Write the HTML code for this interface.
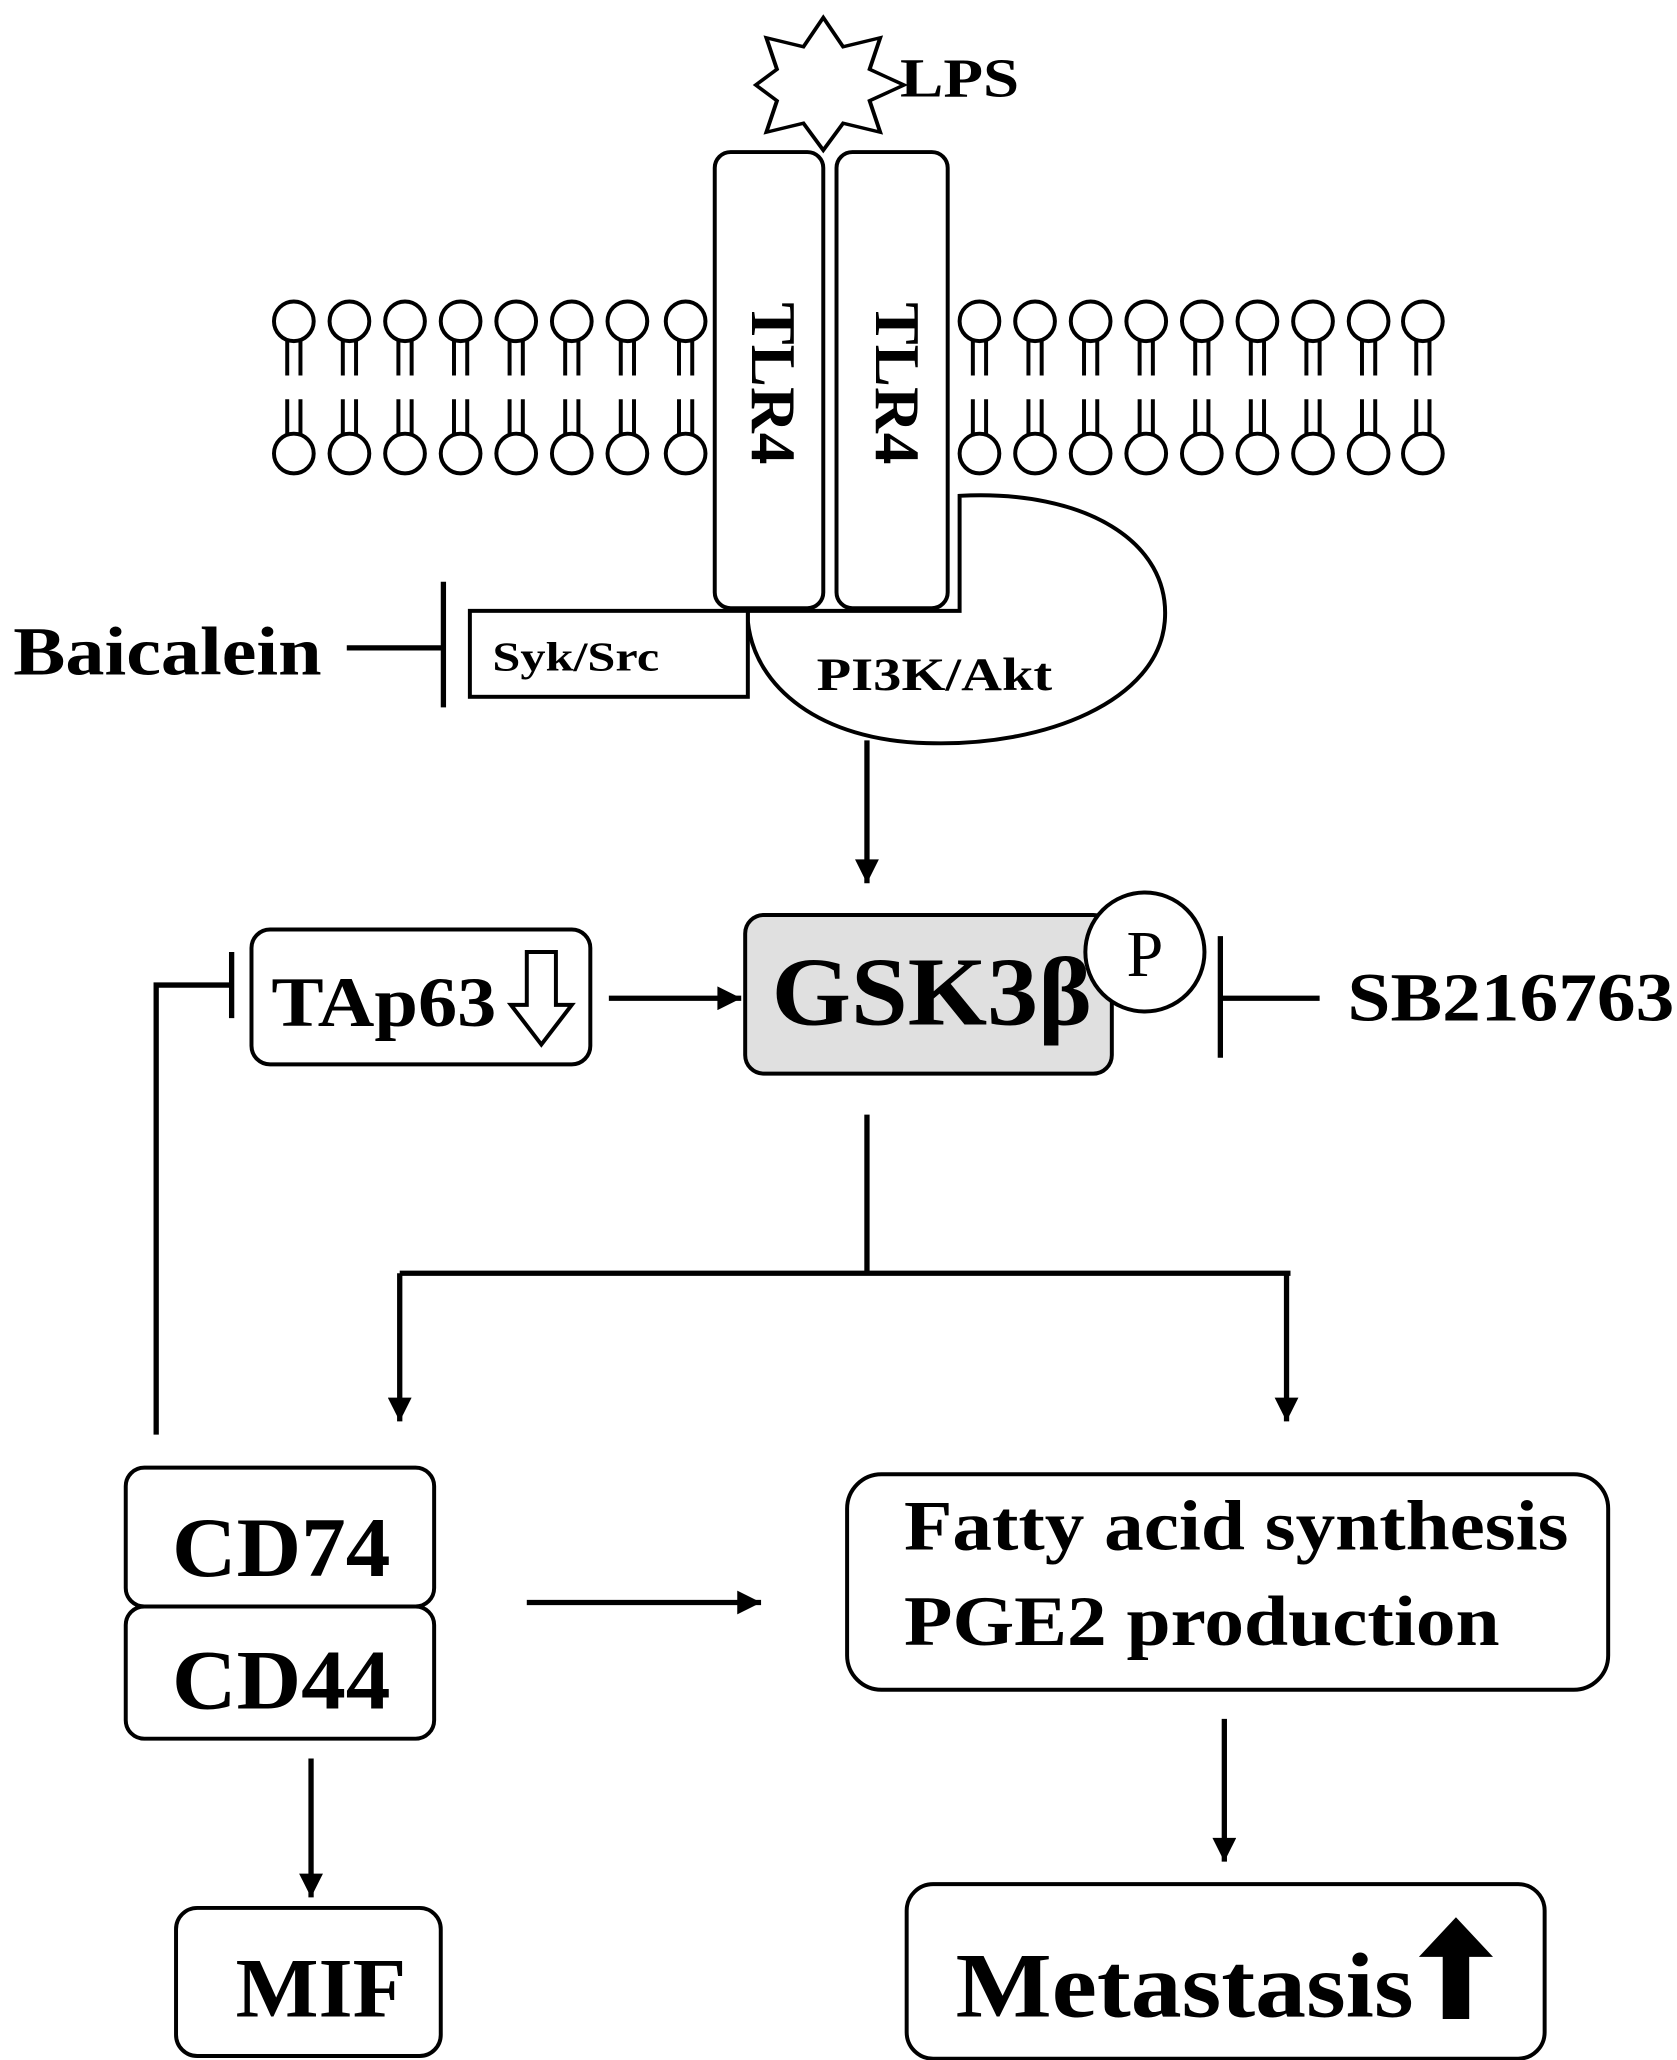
<!DOCTYPE html>
<html><head><style>html,body{margin:0;padding:0;background:#fff}svg{display:block}</style></head>
<body>
<svg width="1677" height="2060" viewBox="0 0 1267 1558" preserveAspectRatio="none" xmlns="http://www.w3.org/2000/svg" font-family="'Liberation Serif',serif">
<defs>
<marker id="ah2" viewBox="0 0 10 10" markerWidth="20" markerHeight="18" refX="10" refY="5" orient="auto" markerUnits="userSpaceOnUse">
<path d="M0,0 L10,5 L0,10 Z" fill="#000"/></marker>
</defs>
<g stroke="#000" stroke-width="3" fill="none">
<polygon fill="#fff" points="622,10 637,36 665,28 657,56 683,70 657,84 665,112 637,104 622,128 607,104 579,112 587,84 571,70 587,56 579,28 607,36" transform="translate(0,-2) scale(1,0.85) translate(0,8)"/>
</g>
<text x="680" y="73" font-size="42" font-weight="bold" textLength="90" lengthAdjust="spacingAndGlyphs">LPS</text>
<g stroke="#000" stroke-width="3" fill="#fff">
<g>
<circle cx="222" cy="243" r="15"/><circle cx="264" cy="243" r="15"/><circle cx="306" cy="243" r="15"/><circle cx="348" cy="243" r="15"/><circle cx="390" cy="243" r="15"/><circle cx="432" cy="243" r="15"/><circle cx="474" cy="243" r="15"/><circle cx="518" cy="243" r="15"/>
<circle cx="222" cy="343" r="15"/><circle cx="264" cy="343" r="15"/><circle cx="306" cy="343" r="15"/><circle cx="348" cy="343" r="15"/><circle cx="390" cy="343" r="15"/><circle cx="432" cy="343" r="15"/><circle cx="474" cy="343" r="15"/><circle cx="518" cy="343" r="15"/>
<circle cx="740" cy="243" r="15"/><circle cx="782" cy="243" r="15"/><circle cx="824" cy="243" r="15"/><circle cx="866" cy="243" r="15"/><circle cx="908" cy="243" r="15"/><circle cx="950" cy="243" r="15"/><circle cx="992" cy="243" r="15"/><circle cx="1034" cy="243" r="15"/><circle cx="1075" cy="243" r="15"/>
<circle cx="740" cy="343" r="15"/><circle cx="782" cy="343" r="15"/><circle cx="824" cy="343" r="15"/><circle cx="866" cy="343" r="15"/><circle cx="908" cy="343" r="15"/><circle cx="950" cy="343" r="15"/><circle cx="992" cy="343" r="15"/><circle cx="1034" cy="343" r="15"/><circle cx="1075" cy="343" r="15"/>
</g>
<g fill="none" stroke-width="3">
<path d="M217,258V284M227,258V284M259,258V284M269,258V284M301,258V284M311,258V284M343,258V284M353,258V284M385,258V284M395,258V284M427,258V284M437,258V284M469,258V284M479,258V284M513,258V284M523,258V284"/>
<path d="M217,302V328M227,302V328M259,302V328M269,302V328M301,302V328M311,302V328M343,302V328M353,302V328M385,302V328M395,302V328M427,302V328M437,302V328M469,302V328M479,302V328M513,302V328M523,302V328"/>
<path d="M735,258V284M745,258V284M777,258V284M787,258V284M819,258V284M829,258V284M861,258V284M871,258V284M903,258V284M913,258V284M945,258V284M955,258V284M987,258V284M997,258V284M1029,258V284M1039,258V284M1070,258V284M1080,258V284"/>
<path d="M735,302V328M745,302V328M777,302V328M787,302V328M819,302V328M829,302V328M861,302V328M871,302V328M903,302V328M913,302V328M945,302V328M955,302V328M987,302V328M997,302V328M1029,302V328M1039,302V328M1070,302V328M1080,302V328"/>
</g>
<path d="M565,462 H725 V375 C820,370 885,410 880,470 C875,530 790,565 700,562 C620,560 570,520 565,470 Z"/>
<rect x="540" y="115" width="82" height="345" rx="12"/>
<rect x="632" y="115" width="84" height="345" rx="12"/>
<rect x="355" y="462" width="210" height="65"/>
<rect x="563" y="692" width="277" height="120" rx="14" fill="#e0e0e0"/>
<circle cx="865" cy="720" r="45"/>
<rect x="190" y="703" width="256" height="102" rx="14"/>
<rect x="95" y="1110" width="233" height="105" rx="14"/>
<rect x="95" y="1215" width="233" height="100" rx="14"/>
<rect x="640" y="1115" width="575" height="163" rx="26"/>
<rect x="685" y="1425" width="482" height="132" rx="20"/>
<rect x="133" y="1443" width="200" height="112" rx="16"/>
</g>
<text transform="translate(568,290) rotate(90)" text-anchor="middle" font-size="48" font-weight="bold">TLR4</text>
<text transform="translate(662,290) rotate(90)" text-anchor="middle" font-size="48" font-weight="bold">TLR4</text>
<text x="372" y="507" font-size="31" font-weight="bold" textLength="126" lengthAdjust="spacingAndGlyphs">Syk/Src</text>
<text x="617" y="522" font-size="35" font-weight="bold" textLength="178" lengthAdjust="spacingAndGlyphs">PI3K/Akt</text>
<text x="10" y="510" font-size="52" font-weight="bold" textLength="233" lengthAdjust="spacingAndGlyphs">Baicalein</text>
<g stroke="#000" stroke-width="4" fill="none">
<path d="M262,490H335M335,440V535"/>
<path d="M655,560V668" marker-end="url(#ah2)"/>
<path d="M922,708V800M922,755H997"/>
<path d="M460,755H560" marker-end="url(#ah2)"/>
<path d="M118,1085V745H175M175,720V770"/>
<path d="M655,843V963M302,963H975"/>
<path d="M302,963V1075" marker-end="url(#ah2)"/>
<path d="M972,963V1075" marker-end="url(#ah2)"/>
<path d="M398,1212H575" marker-end="url(#ah2)"/>
<path d="M925,1300V1408" marker-end="url(#ah2)"/>
<path d="M235,1330V1435" marker-end="url(#ah2)"/>
</g>
<text x="583" y="775" font-size="74" font-weight="bold" textLength="242" lengthAdjust="spacingAndGlyphs">GSK3β</text>
<text x="865" y="738" text-anchor="middle" font-size="50">P</text>
<text x="1018" y="772" font-size="52" font-weight="bold" textLength="247" lengthAdjust="spacingAndGlyphs">SB216763</text>
<text x="205" y="776" font-size="54" font-weight="bold" textLength="170" lengthAdjust="spacingAndGlyphs">TAp63</text>
<path d="M398,720H420V760H432L409,790L386,760H398Z" fill="#fff" stroke="#000" stroke-width="3"/>
<text x="130" y="1192" font-size="64" font-weight="bold" textLength="165" lengthAdjust="spacingAndGlyphs">CD74</text>
<text x="130" y="1292" font-size="64" font-weight="bold" textLength="165" lengthAdjust="spacingAndGlyphs">CD44</text>
<text x="683" y="1172" font-size="54" font-weight="bold" textLength="502" lengthAdjust="spacingAndGlyphs">Fatty acid synthesis</text>
<text x="683" y="1244" font-size="54" font-weight="bold" textLength="450" lengthAdjust="spacingAndGlyphs">PGE2 production</text>
<text x="722" y="1525" font-size="70" font-weight="bold" textLength="346" lengthAdjust="spacingAndGlyphs">Metastasis</text>
<path d="M1090,1527V1480H1072L1100,1450L1128,1480H1110V1527Z" fill="#000"/>
<text x="178" y="1525" font-size="64" font-weight="bold" textLength="129" lengthAdjust="spacingAndGlyphs">MIF</text>
</svg>
</body></html>
